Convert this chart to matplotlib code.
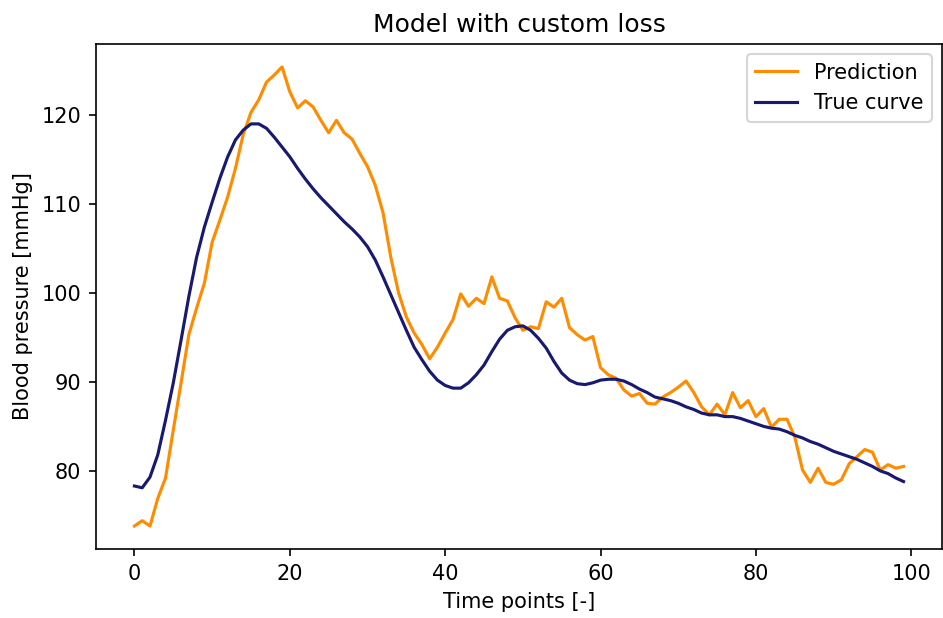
import numpy as np
import matplotlib
matplotlib.use("Agg")
import matplotlib.pyplot as plt

# values, one per time point (0..99)
prediction = [
    73.8, 74.4, 73.8, 76.9, 79.2, 84.6, 89.9, 95.3, 98.3, 101.1,
    105.7, 108.2, 110.8, 114.0, 117.8, 120.3, 121.7, 123.7, 124.5, 125.4,
    122.6, 120.8, 121.6, 120.9, 119.4, 118.0, 119.4, 118.0, 117.3, 115.7,
    114.2, 112.1, 109.0, 104.0, 100.0, 97.3, 95.5, 94.2, 92.6, 93.9,
    95.5, 97.0, 99.9, 98.5, 99.4, 98.8, 101.8, 99.4, 99.1, 97.2,
    95.8, 96.2, 96.0, 99.0, 98.4, 99.4, 96.1, 95.3, 94.7, 95.1,
    91.6, 90.8, 90.4, 89.1, 88.4, 88.7, 87.6, 87.5, 88.3, 88.8,
    89.4, 90.1, 88.8, 87.2, 86.3, 87.5, 86.3, 88.8, 87.1, 87.9,
    86.1, 87.0, 84.9, 85.8, 85.8, 83.8, 80.1, 78.7, 80.3, 78.7,
    78.5, 79.0, 80.8, 81.6, 82.4, 82.1, 80.1, 80.7, 80.3, 80.5,
]
true_curve = [
    78.3, 78.1, 79.3, 81.8, 85.7, 89.9, 94.7, 99.6, 104.0, 107.4,
    110.2, 112.9, 115.3, 117.2, 118.3, 119.0, 119.0, 118.5, 117.5, 116.4,
    115.3, 114.0, 112.8, 111.7, 110.7, 109.8, 108.9, 108.0, 107.2, 106.3,
    105.2, 103.7, 101.8, 99.8, 97.8, 95.8, 93.9, 92.5, 91.2, 90.2,
    89.6, 89.3, 89.3, 89.9, 90.8, 91.9, 93.4, 94.8, 95.8, 96.2,
    96.3, 95.8, 94.9, 93.8, 92.3, 91.0, 90.2, 89.8, 89.7, 89.9,
    90.2, 90.3, 90.3, 90.1, 89.7, 89.2, 88.8, 88.3, 88.1, 87.9,
    87.6, 87.2, 86.9, 86.5, 86.3, 86.3, 86.1, 86.1, 85.9, 85.6,
    85.3, 85.0, 84.8, 84.7, 84.4, 84.0, 83.7, 83.3, 83.0, 82.6,
    82.2, 81.9, 81.6, 81.3, 80.9, 80.5, 80.0, 79.7, 79.2, 78.8,
]
t = np.arange(len(prediction))

fig, ax = plt.subplots(figsize=(943 / 150, 618 / 150), dpi=150)
fig.subplots_adjust(left=96 / 943, right=942 / 943, top=1 - 44 / 618, bottom=1 - 549 / 618)

ax.plot(t, prediction, color="darkorange", label="Prediction")
ax.plot(t, true_curve, color="midnightblue", label="True curve")

ax.set_title("Model with custom loss")
ax.set_xlabel("Time points [-]")
ax.set_ylabel("Blood pressure [mmHg]")
ax.legend(loc="upper right")

fig.savefig("out.png", dpi=150)
